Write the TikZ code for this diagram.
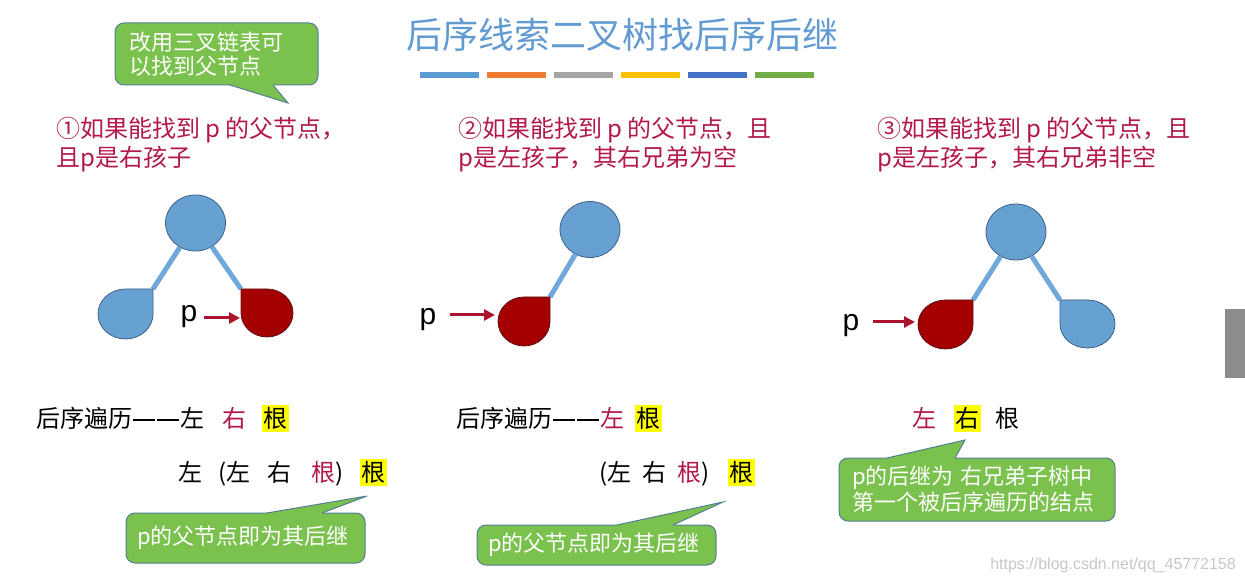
\documentclass[tikz,border=0pt]{standalone}
\usepackage{fontspec}
\setmainfont{Noto Sans CJK SC}
\newfontfamily\latinfont{Liberation Sans}
\usetikzlibrary{shapes.geometric,arrows.meta}

\definecolor{titleblue}{RGB}{98,155,210}
\definecolor{crim}{RGB}{178,24,72}
\definecolor{nodeblue}{RGB}{102,161,210}
\definecolor{nodeline}{RGB}{62,96,135}
\definecolor{nodered}{RGB}{165,0,0}
\definecolor{redline}{RGB}{90,20,30}
\definecolor{edgeblue}{RGB}{112,168,218}
\definecolor{arrowred}{RGB}{172,20,45}
\definecolor{cfill}{RGB}{122,193,77}
\definecolor{cline}{RGB}{82,126,150}
\definecolor{hlyellow}{RGB}{255,255,0}
\definecolor{barA}{RGB}{91,155,213}
\definecolor{barB}{RGB}{237,125,49}
\definecolor{barC}{RGB}{165,165,165}
\definecolor{barD}{RGB}{255,192,0}
\definecolor{barE}{RGB}{68,114,196}
\definecolor{barF}{RGB}{112,173,71}

% full-width dash, as the slide sets it
\newcommand{\widedash}{\makebox[1em]{\rule[0.27em]{0.94em}{0.08em}}}

\begin{document}
\begin{tikzpicture}[x=1pt, y=-1pt,
  head/.style={font=\fontsize{24}{29}\selectfont, text=crim, anchor=base west, inner sep=0pt, align=left},
  word/.style={font=\fontsize{24}{29}\selectfont, anchor=base west, inner sep=0pt},
  hlword/.style={word, fill=hlyellow, inner sep=1.5pt, text height=20.5pt, text depth=3pt},
  root/.style={ellipse, fill=nodeblue, draw=nodeline, line width=0.8pt, minimum width=60pt, minimum height=56pt, inner sep=0pt},
  branch/.style={draw=edgeblue, line width=5pt},
  leafblue/.style={fill=nodeblue, draw=nodeline, line width=0.8pt},
  leafred/.style={fill=nodered, draw=redline, line width=0.8pt},
  parrow/.style={draw=arrowred, line width=3pt, -{Triangle[length=11pt,width=11pt]}},
  plabel/.style={font=\fontsize{30}{30}\selectfont\latinfont, inner sep=0pt},
  cbox/.style={fill=cfill, draw=cline, line width=1pt, rounded corners=9pt, text=white, font=\fontsize{22}{24}\selectfont},
  cedge/.style={draw=cline, line width=1pt, line join=miter}
]
  \useasboundingbox (0,0) rectangle (1245,585);

  % title and colour bars
  \node[font=\fontsize{36}{36}\selectfont, text=titleblue] (title) at (622,35) {后序线索二叉树找后序后继};
  \foreach \c [count=\i from 0] in {barA,barB,barC,barD,barE,barF}
    \fill[\c] (420+\i*67,72) rectangle ++(59,6);

  % note: three-way linked list
  \node[cbox, minimum width=203pt, minimum height=62pt, text width=175pt, align=left, inner xsep=14pt] (note1) at (216.5,54) {改用三叉链表可\\以找到父节点};
  \coordinate (tip1) at (288,103);
  \fill[cfill] (230,85) -- (tip1) -- (273,85) -- (273,82) -- (230,82) -- cycle;
  \draw[cedge] (230,85) -- (tip1) -- (273,85);

  % case headings (base = last line)
  \node[head] (h1) at (56,167) {①如果能找到 p 的父节点，\\且p是右孩子};
  \node[head] (h2) at (458,167) {②如果能找到 p 的父节点，且\\p是左孩子，其右兄弟为空};
  \node[head] (h3) at (877,167) {③如果能找到 p 的父节点，且\\p是左孩子，其右兄弟非空};

  % case 1: p is the right child
  \node[root] (r1) at (195.5,223) {};
  \coordinate (c1l) at (153,289);
  \coordinate (c1r) at (241,289);
  \draw[branch] (r1) -- (c1l);
  \draw[branch] (r1) -- (c1r);
  \draw[leafblue] (c1l) -- (125.5,289) arc[start angle=270, end angle=0, x radius=27.5, y radius=25] -- cycle;
  \draw[leafred] (c1r) -- (267,289) arc[start angle=270, end angle=540, x radius=26, y radius=24] -- cycle;
  \node[plabel] (p1) at (189,317) {p};
  \coordinate (k1w) at (240,318);
  \draw[parrow, shorten <=6pt] (p1.east |- k1w) -- (k1w);

  % case 2: p is the left child, no right sibling
  \node[root] (r2) at (590,229.5) {};
  \coordinate (c2l) at (550,297);
  \draw[branch] (r2) -- (c2l);
  \draw[leafred] (c2l) -- (524,297) arc[start angle=270, end angle=0, x radius=26, y radius=24.5] -- cycle;
  \node[plabel] (p2) at (428,320) {p};
  \coordinate (k2w) at (495,315);
  \draw[parrow, shorten <=13pt] (p2.east |- k2w) -- (k2w);

  % case 3: p is the left child, right sibling exists
  \node[root] (r3) at (1016,232) {};
  \coordinate (c3l) at (973,300);
  \coordinate (c3r) at (1060,300);
  \draw[branch] (r3) -- (c3l);
  \draw[branch] (r3) -- (c3r);
  \draw[leafred] (c3l) -- (945.5,300) arc[start angle=270, end angle=0, x radius=27.5, y radius=24.5] -- cycle;
  \draw[leafblue] (c3r) -- (1087.5,300) arc[start angle=270, end angle=540, x radius=27.5, y radius=24] -- cycle;
  \node[plabel] (p3) at (851,326) {p};
  \coordinate (k3w) at (915,322);
  \draw[parrow, shorten <=13pt] (p3.east |- k3w) -- (k3w);

  % orders, case 1
  \node[word] (o1a) at (36,427) {后序遍历\widedash\widedash 左};
  \node[word, text=crim] (o1b) at (222,427) {右};
  \node[hlword] (o1c) at (262,427) {根};
  \node[word] (o1d) at (178,481) {左};
  \node[word] (o1e) at (218,481) {(左};
  \node[word] (o1f) at (267,481) {右};
  \node[word] (o1g) at (311,481) {\textcolor{crim}{根})};
  \node[hlword] (o1h) at (360,481) {根};

  % orders, case 2
  \node[word] (o2a) at (456,427) {后序遍历\widedash\widedash\textcolor{crim}{左}};
  \node[hlword] (o2b) at (635,427) {根};
  \node[word] (o2c) at (599,481) {(左};
  \node[word] (o2d) at (642,481) {右};
  \node[word] (o2e) at (677,481) {\textcolor{crim}{根})};
  \node[hlword] (o2f) at (728,481) {根};

  % orders, case 3
  \node[word, text=crim] (o3a) at (912,427) {左};
  \node[hlword] (o3b) at (954,427) {右};
  \node[word] (o3c) at (995,427) {根};

  % note: case 1
  \node[cbox, minimum width=239pt, minimum height=50pt, text width=217pt, align=left, inner xsep=11pt] (note2) at (245.5,538) {p的父节点即为其后继};
  \coordinate (tip2) at (367,496);
  \fill[cfill] (267,513) -- (tip2) -- (322,513) -- (322,516) -- (267,516) -- cycle;
  \draw[cedge] (267,513) -- (tip2) -- (322,513);

  % note: case 2
  \node[cbox, minimum width=239pt, minimum height=40pt, text width=217pt, align=left, inner xsep=11pt] (note3) at (596.5,545) {p的父节点即为其后继};
  \coordinate (tip3) at (723,502);
  \fill[cfill] (617,525) -- (tip3) -- (673,525) -- (673,528) -- (617,528) -- cycle;
  \draw[cedge] (617,525) -- (tip3) -- (673,525);

  % note: case 3
  \node[cbox, font=\fontsize{22}{26}\selectfont, minimum width=276pt, minimum height=63pt, text width=250pt, align=left, inner xsep=13pt] (note4) at (977,489.5) {p的后继为 右兄弟子树中\\第一个被后序遍历的结点};
  \coordinate (tip4) at (965,440);
  \fill[cfill] (887,458) -- (tip4) -- (955,458) -- (955,461) -- (887,461) -- cycle;
  \draw[cedge] (887,458) -- (tip4) -- (955,458);

  % watermark and side bar
  \node[font=\fontsize{16}{16}\selectfont\latinfont, text=black!22, anchor=east, inner sep=0pt] (mark) at (1236,565) {https://blog.csdn.net/qq\_45772158};
  \fill[black!45] (1225,309) rectangle (1245,378);
\end{tikzpicture}
\end{document}
